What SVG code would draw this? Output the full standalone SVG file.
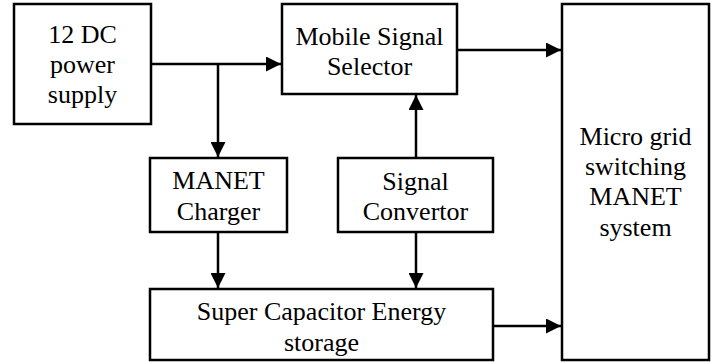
<svg xmlns="http://www.w3.org/2000/svg" width="715" height="362" viewBox="0 0 715 362">
<style>
.box{fill:#fff;stroke:#000;stroke-width:2.5}
.t{font-size:26px;fill:#000;text-anchor:middle}
.c{fill:none;stroke:#000;stroke-width:2.5}
</style>
<defs>
<marker id="ah" markerUnits="userSpaceOnUse" markerWidth="15" markerHeight="15" viewBox="0 0 15 15" refX="15" refY="7.5" orient="auto">
<path d="M0,0 L15,7.5 L0,15 Z" fill="#000"/>
</marker>
</defs>
<g id="connectors">
<path class="c" d="M151,64 H281" marker-end="url(#ah)"/>
<path class="c" d="M218,64 V157" marker-end="url(#ah)"/>
<path class="c" d="M218,232 V288" marker-end="url(#ah)"/>
<path class="c" d="M416,158 V95" marker-end="url(#ah)"/>
<path class="c" d="M416,232 V288" marker-end="url(#ah)"/>
<path class="c" d="M457,50 H561" marker-end="url(#ah)"/>
<path class="c" d="M493,326 H561" marker-end="url(#ah)"/>
</g>
<g font-family="Liberation Serif, Times New Roman, serif">
<g id="power">
<rect class="box" x="14" y="4" width="137" height="120"/>
<text class="t" x="82.5" y="43">12 DC</text>
<text class="t" x="82.5" y="73">power</text>
<text class="t" x="82.5" y="103">supply</text>
</g>
<g id="selector">
<rect class="box" x="282" y="4" width="175" height="90"/>
<text class="t" x="369.5" y="45">Mobile Signal</text>
<text class="t" x="369.5" y="75">Selector</text>
</g>
<g id="micro">
<rect class="box" x="562" y="4" width="147" height="356"/>
<text class="t" x="635.5" y="145">Micro grid</text>
<text class="t" x="635.5" y="175">switching</text>
<text class="t" x="635.5" y="205">MANET</text>
<text class="t" x="635.5" y="236">system</text>
</g>
<g id="charger">
<rect class="box" x="150" y="158" width="137" height="74"/>
<text class="t" x="218.5" y="189">MANET</text>
<text class="t" x="218.5" y="220">Charger</text>
</g>
<g id="convertor">
<rect class="box" x="338" y="158" width="155" height="74"/>
<text class="t" x="415.5" y="190">Signal</text>
<text class="t" x="415.5" y="220">Convertor</text>
</g>
<g id="supercap">
<rect class="box" x="150" y="289" width="343" height="71"/>
<text class="t" x="321.5" y="320">Super Capacitor Energy</text>
<text class="t" x="321.5" y="351">storage</text>
</g>
</g>
</svg>
